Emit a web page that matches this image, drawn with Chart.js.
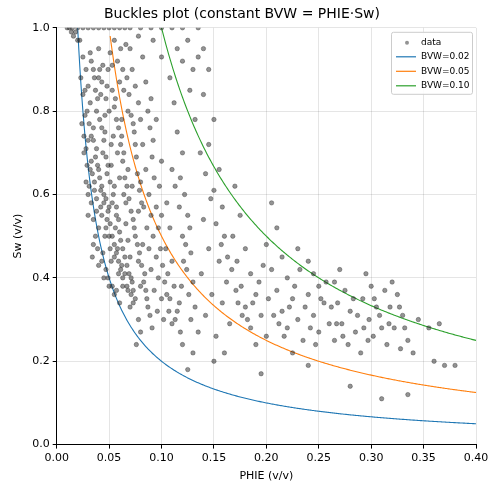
<!DOCTYPE html>
<html><head><meta charset="utf-8">
<script src="https://cdn.jsdelivr.net/npm/chart.js@4"></script>
<style>body{margin:0;background:#fff}#w{width:498px;height:492px}</style>
</head><body><div id="w"><canvas id="c"></canvas></div>
<script>
const dataPoints = [
[0.022,0.97],[0.025,0.93],[0.028,0.9],[0.03,0.86],[0.032,0.82],[0.027,0.79],[0.035,0.76],[0.03,0.73],[0.038,0.71],[0.033,0.68],[0.04,0.66],[0.036,0.63],[0.042,0.61],[0.03,0.6],[0.045,0.58],[0.038,0.56],[0.048,0.54],[0.04,0.52],[0.05,0.5],[0.035,0.48],[0.044,0.46],[0.052,0.44],[0.03,0.55],[0.028,0.63],[0.026,0.7],[0.024,0.77],[0.046,0.75],[0.05,0.8],[0.048,0.86],[0.044,0.91],[0.04,0.95],[0.055,0.97],[0.058,0.92],[0.06,0.87],[0.056,0.83],[0.062,0.78],[0.054,0.74],[0.058,0.7],[0.052,0.67],[0.06,0.64],[0.055,0.62],[0.064,0.6],[0.05,0.57],[0.057,0.55],[0.066,0.53],[0.06,0.51],[0.068,0.49],[0.058,0.47],[0.07,0.45],[0.062,0.43],[0.065,0.41],[0.072,0.39],[0.068,0.37],[0.075,0.35],[0.07,0.33],[0.078,0.3],[0.08,0.27],[0.076,0.24],[0.055,0.36],[0.06,0.34],[0.045,0.4],[0.04,0.43],[0.05,0.38],[0.034,0.45],
[0.07,0.95],[0.072,0.9],[0.075,0.86],[0.078,0.82],[0.08,0.78],[0.074,0.75],[0.082,0.72],[0.076,0.69],[0.085,0.66],[0.08,0.63],[0.088,0.6],[0.083,0.57],[0.09,0.55],[0.086,0.52],[0.092,0.5],[0.088,0.47],[0.095,0.45],[0.09,0.42],[0.097,0.4],[0.093,0.37],[0.1,0.35],[0.096,0.32],[0.102,0.3],[0.085,0.87],[0.09,0.83],[0.095,0.78],[0.092,0.73],[0.1,0.68],[0.098,0.62],[0.105,0.58],[0.1,0.55],[0.108,0.52],[0.104,0.47],[0.11,0.44],[0.106,0.41],[0.112,0.38],[0.108,0.35],[0.115,0.32],[0.11,0.29],[0.118,0.27],[0.12,0.24],[0.1,0.93],[0.108,0.88],[0.112,0.82],[0.115,0.75],[0.12,0.7],[0.118,0.64],[0.122,0.6],[0.125,0.55],[0.12,0.5],[0.128,0.46],[0.124,0.42],[0.13,0.39],[0.126,0.36],[0.132,0.33],[0.128,0.3],[0.135,0.27],[0.13,0.22],[0.125,0.18],
[0.14,0.95],[0.145,0.9],[0.14,0.84],[0.15,0.78],[0.145,0.72],[0.155,0.66],[0.15,0.61],[0.158,0.57],[0.14,0.54],[0.16,0.5],[0.145,0.47],[0.155,0.44],[0.138,0.41],[0.162,0.39],[0.148,0.36],[0.158,0.34],[0.142,0.31],[0.165,0.29],[0.152,0.26],[0.16,0.22],[0.15,0.2],[0.17,0.62],[0.175,0.55],[0.168,0.5],[0.18,0.47],[0.172,0.44],[0.185,0.41],[0.176,0.38],[0.19,0.36],[0.18,0.33],[0.195,0.31],[0.185,0.28],[0.2,0.26],[0.19,0.24],[0.195,0.17],
[0.205,0.58],[0.21,0.52],[0.2,0.48],[0.215,0.45],[0.205,0.42],[0.22,0.4],[0.21,0.37],[0.225,0.35],[0.215,0.32],[0.23,0.3],[0.22,0.28],[0.235,0.25],[0.225,0.22],[0.24,0.19],[0.23,0.47],[0.24,0.44],[0.245,0.41],[0.25,0.38],[0.24,0.36],[0.255,0.34],[0.245,0.31],[0.26,0.29],[0.25,0.27],[0.265,0.25],[0.27,0.42],[0.265,0.39],[0.275,0.37],[0.268,0.34],[0.28,0.32],[0.272,0.29],[0.285,0.27],[0.278,0.24],[0.29,0.22],[0.28,0.14],[0.295,0.41],[0.3,0.38],[0.292,0.35],[0.305,0.33],[0.298,0.3],[0.31,0.28],[0.302,0.26],[0.315,0.24],[0.31,0.11],[0.32,0.39],[0.325,0.36],[0.318,0.33],[0.33,0.31],[0.322,0.28],[0.335,0.25],[0.328,0.23],[0.335,0.12],[0.345,0.3],[0.355,0.28],[0.365,0.29],[0.36,0.2],[0.37,0.19],[0.38,0.19],[0.34,0.22],
[0.036,0.88],[0.042,0.84],[0.046,0.79],[0.052,0.72],[0.064,0.7],[0.068,0.66],[0.072,0.62],[0.066,0.58],[0.078,0.56],[0.074,0.52],[0.082,0.48],[0.078,0.44],[0.084,0.41],[0.08,0.38],[0.086,0.35],[0.064,0.85],[0.068,0.8],[0.062,0.74],[0.066,0.96],[0.082,0.93],[0.078,0.98],[0.092,0.97],[0.025,0.84],[0.032,0.94],[0.038,0.8],[0.044,0.7],[0.034,0.65],[0.042,0.57],[0.048,0.65],[0.054,0.6],[0.046,0.5],[0.056,0.52],[0.035,0.73],[0.04,0.88],[0.02,0.97],[0.018,0.99],
[0.01,1],[0.015,1],[0.02,1],[0.025,1],[0.03,1],[0.035,1],[0.04,1],[0.045,1],[0.05,1],[0.055,1],[0.06,1],[0.065,1],[0.07,1],[0.08,1],[0.09,1],[0.1,1],[0.11,1],[0.12,1],[0.135,1]
];
const morePoints = [
[0.023,0.88],[0.027,0.85],[0.029,0.8],[0.031,0.77],[0.033,0.74],[0.037,0.69],[0.039,0.67],[0.041,0.64],[0.043,0.62],[0.045,0.6],[0.047,0.59],[0.049,0.56],[0.051,0.53],[0.053,0.5],[0.055,0.48],[0.057,0.46],[0.059,0.44],[0.061,0.42],[0.063,0.4],[0.067,0.38],[0.071,0.36],[0.073,0.34],[0.029,0.67],[0.031,0.62],[0.033,0.58],[0.035,0.54],[0.037,0.5],[0.039,0.47],[0.043,0.44],[0.047,0.42],[0.049,0.4],[0.053,0.38],[0.057,0.37],[0.026,0.74],[0.028,0.71],[0.032,0.66],[0.036,0.61],[0.038,0.59],[0.043,0.55],[0.047,0.52],[0.051,0.47],[0.055,0.45],[0.059,0.41],[0.063,0.38],
[0.041,0.78],[0.043,0.76],[0.045,0.73],[0.047,0.69],[0.049,0.67],[0.051,0.63],[0.053,0.58],[0.057,0.57],[0.059,0.54],[0.061,0.49],[0.063,0.47],[0.065,0.45],[0.067,0.43],[0.069,0.41],[0.071,0.4],[0.073,0.37],[0.053,0.85],[0.055,0.81],[0.057,0.78],[0.059,0.76],[0.061,0.72],[0.063,0.68],[0.065,0.64],[0.067,0.62],[0.069,0.59],[0.071,0.56],[0.073,0.54],[0.075,0.5],[0.077,0.48],[0.079,0.46],[0.081,0.43],[0.083,0.39],[0.085,0.37],[0.087,0.33],[0.089,0.31],[0.091,0.28],
[0.033,0.92],[0.035,0.9],[0.037,0.85],[0.039,0.83],[0.041,0.9],[0.043,0.87],[0.047,0.83],[0.049,0.9],[0.051,0.94],[0.053,0.91],[0.061,0.95],[0.063,0.9],[0.067,0.88],[0.069,0.84],[0.071,0.79],[0.073,0.77],[0.075,0.72],[0.077,0.65],[0.079,0.61],[0.081,0.58],[0.087,0.8],[0.089,0.76],[0.091,0.69],[0.093,0.64],[0.095,0.57],[0.097,0.52],[0.099,0.47],[0.101,0.43],[0.103,0.39],[0.105,0.36],[0.107,0.32],[0.113,0.3],[0.117,0.34],[0.119,0.38],[0.121,0.44],[0.123,0.48],[0.127,0.52],[0.117,0.57],[0.113,0.62],[0.11,0.66],
[0.115,0.95],[0.12,0.92],[0.125,0.97],[0.13,0.9],[0.135,0.93],[0.127,0.85],[0.132,0.78],[0.137,0.7],[0.142,0.65],[0.147,0.59],[0.152,0.53],[0.157,0.48],[0.163,0.45],[0.167,0.42],[0.171,0.37],[0.173,0.34],[0.177,0.31],[0.182,0.3],[0.187,0.34],[0.193,0.39],[0.197,0.43],[0.202,0.35],[0.207,0.31],[0.212,0.29],[0.217,0.26],[0.222,0.33],[0.227,0.38],[0.232,0.42],[0.237,0.33],[0.242,0.28],[0.247,0.24],[0.252,0.35],[0.257,0.39],[0.262,0.33],[0.267,0.29],[0.273,0.26],[0.283,0.35],[0.287,0.31],[0.293,0.28],[0.297,0.25],[0.303,0.35],[0.308,0.31],[0.313,0.37],[0.317,0.29],[0.327,0.33],[0.332,0.28],[0.014,0.99],[0.016,0.98],[0.012,1]
];
const bvwValues = [0.02, 0.05, 0.10];
const bvwColors = ['#1f77b4', '#ff7f0e', '#2ca02c'];
const phieGrid = [];
for (let i = 0; i <= 400; i++) phieGrid.push(0.005 + i * 0.001);
const lineSets = bvwValues.map((b, k) => ({
  label: 'BVW=' + b.toFixed(2), type: 'line',
  data: phieGrid.filter(p => b / p <= 1.0).map(p => ({x: p, y: b / p})),
  borderColor: bvwColors[k], borderWidth: 1.1, pointRadius: 0, fill: false, tension: 0
}));
const scatterSet = {
  label: 'data', type: 'scatter',
  data: dataPoints.concat(morePoints).map(d => ({x: d[0], y: d[1]})),
  backgroundColor: 'rgba(40,40,40,0.5)', borderColor: 'rgba(40,40,40,0.6)', pointRadius: 2.2, borderWidth: 0.6
};
const legendPlugin = {
  id: 'lg', afterDraw(ch) {
    const c = ch.ctx, a = ch.chartArea;
    const x0 = a.right - 85, y0 = a.top + 4, w = 81, h = 62;
    c.save();
    c.fillStyle = 'rgba(255,255,255,0.85)'; c.strokeStyle = '#ccc'; c.lineWidth = 1;
    c.beginPath(); c.roundRect(x0 + .5, y0 + .5, w, h, 2); c.fill(); c.stroke();
    c.font = '9px "DejaVu Sans"'; c.textBaseline = 'middle';
    c.fillStyle = 'rgba(40,40,40,0.5)'; c.beginPath(); c.arc(x0 + 16, y0 + 11, 2, 0, 7); c.fill();
    c.fillStyle = '#000'; c.fillText('data', x0 + 30, y0 + 11);
    bvwValues.forEach((b, k) => {
      const y = y0 + 25 + k * 14.5;
      c.strokeStyle = bvwColors[k]; c.lineWidth = 1.2;
      c.beginPath(); c.moveTo(x0 + 5, y); c.lineTo(x0 + 25, y); c.stroke();
      c.fillText('BVW=' + b.toFixed(2), x0 + 30, y);
    });
    c.restore();
  }
};
new Chart(document.getElementById('c'), {
  data: {datasets: [scatterSet, ...lineSets]},
  options: {
    responsive: true, maintainAspectRatio: false, animation: false,
    layout: {padding: {left: 8, right: 22, top: 0, bottom: 5}},
    plugins: {
      legend: {display: false}, tooltip: {enabled: false},
      title: {display: true, text: 'Buckles plot (constant BVW = PHIE·Sw)', color: '#000',
        font: {family: 'DejaVu Sans', size: 14, weight: 'normal'}, padding: {top: 6, bottom: 5}}
    },
    scales: {
      x: {type: 'linear', min: 0, max: 0.4,
        ticks: {stepSize: 0.05, color: '#000', font: {family: 'DejaVu Sans', size: 11}, callback: v => v.toFixed(2)},
        grid: {color: 'rgba(0,0,0,0.1)', tickColor: '#000', tickLength: 4},
        border: {color: '#000'},
        title: {display: true, text: 'PHIE (v/v)', color: '#000', font: {family: 'DejaVu Sans', size: 11}, padding: {top: 2}}},
      y: {type: 'linear', min: 0, max: 1.0,
        ticks: {stepSize: 0.2, color: '#000', font: {family: 'DejaVu Sans', size: 11}, callback: v => v.toFixed(1)},
        grid: {color: 'rgba(0,0,0,0.1)', tickColor: '#000', tickLength: 4},
        border: {color: '#000'},
        title: {display: true, text: 'Sw (v/v)', color: '#000', font: {family: 'DejaVu Sans', size: 11}}}
    }
  },
  plugins: [legendPlugin]
});
</script></body></html>
